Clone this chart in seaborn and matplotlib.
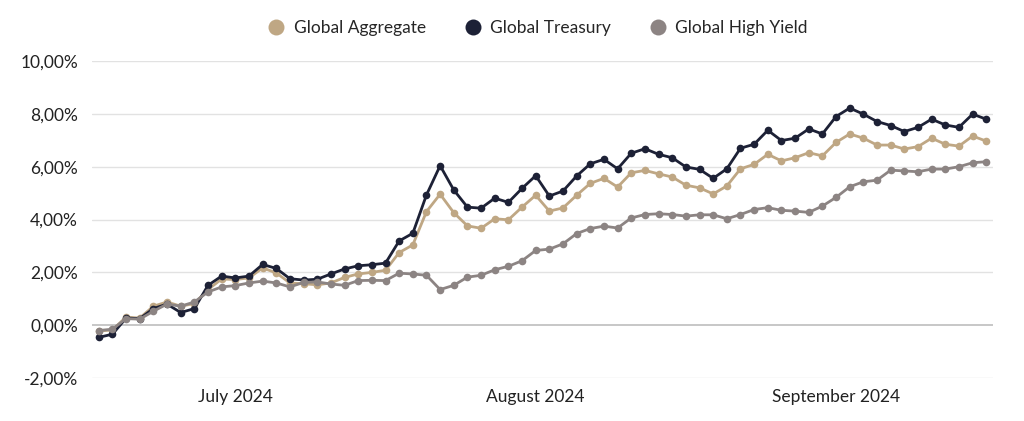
import seaborn as sns
import matplotlib.pyplot as plt
import pandas as pd
import numpy as np
from matplotlib.lines import Line2D
from matplotlib.ticker import FuncFormatter

# business days Jul 1 - Sep 30 2024 (66 points)
dates = pd.bdate_range("2024-07-01", "2024-09-30")

global_aggregate = [
    -0.22, -0.18, 0.31, 0.27, 0.72, 0.88, 0.72, 0.82, 1.35, 1.75,
    1.73, 1.79, 2.17, 1.98, 1.60, 1.57, 1.53, 1.60, 1.81, 1.94,
    2.00, 2.08, 2.75, 3.04, 4.30, 4.96, 4.26, 3.76, 3.67, 4.03,
    3.99, 4.47, 4.92, 4.32, 4.44, 4.92, 5.37, 5.56, 5.23, 5.77,
    5.86, 5.73, 5.61, 5.30, 5.20, 4.97, 5.27, 5.92, 6.09, 6.47,
    6.22, 6.34, 6.53, 6.41, 6.92, 7.24, 7.08, 6.82, 6.82, 6.67,
    6.76, 7.08, 6.85, 6.78, 7.16, 6.97,
]
global_treasury = [
    -0.46, -0.34, 0.27, 0.25, 0.63, 0.80, 0.48, 0.63, 1.51, 1.86,
    1.79, 1.86, 2.30, 2.15, 1.76, 1.71, 1.74, 1.94, 2.13, 2.25,
    2.29, 2.35, 3.19, 3.48, 4.93, 6.04, 5.12, 4.47, 4.43, 4.81,
    4.65, 5.18, 5.66, 4.89, 5.08, 5.65, 6.11, 6.28, 5.92, 6.51,
    6.68, 6.47, 6.34, 5.99, 5.90, 5.56, 5.92, 6.70, 6.85, 7.38,
    6.99, 7.08, 7.43, 7.24, 7.90, 8.22, 7.99, 7.71, 7.56, 7.33,
    7.49, 7.80, 7.58, 7.49, 7.99, 7.80,
]
global_high_yield = [
    -0.20, -0.15, 0.25, 0.23, 0.53, 0.80, 0.72, 0.88, 1.26, 1.45,
    1.50, 1.60, 1.67, 1.60, 1.45, 1.62, 1.64, 1.56, 1.51, 1.69,
    1.70, 1.69, 1.97, 1.94, 1.89, 1.35, 1.51, 1.82, 1.89, 2.10,
    2.23, 2.44, 2.83, 2.88, 3.08, 3.47, 3.66, 3.75, 3.68, 4.06,
    4.19, 4.22, 4.19, 4.13, 4.18, 4.18, 4.03, 4.19, 4.38, 4.45,
    4.35, 4.32, 4.27, 4.51, 4.84, 5.24, 5.43, 5.49, 5.87, 5.84,
    5.81, 5.91, 5.91, 6.00, 6.15, 6.19,
]

series_names = ["Global Aggregate", "Global Treasury", "Global High Yield"]
colors = ["#BFA784", "#1D2136", "#8C8483"]

month_labels = ["July 2024", "August 2024", "September 2024"]
month_tick_pos = [10, 32, 54]

y_ticks = [-2, 0, 2, 4, 6, 8, 10]

df = pd.DataFrame({
    "idx": np.tile(np.arange(len(dates)), 3),
    "series": np.repeat(series_names, len(dates)),
    "value": global_aggregate + global_treasury + global_high_yield,
})

sns.set_style("white")
plt.rcParams['font.family'] = ['Lato', 'DejaVu Sans']

fig = plt.figure(figsize=(10.24, 4.21), dpi=100)
ax = fig.add_axes([0.0898, 0.102, 0.880, 0.753])

# gridlines
for yt in y_ticks:
    ax.axhline(yt, color="#BDBDBD" if yt == 0 else "#E2E2E2",
               lw=1.2 if yt == 0 else 1.0, zorder=0)

sns.lineplot(data=df, x="idx", y="value", hue="series", hue_order=series_names,
             palette=colors, marker="o", markersize=5.5, markeredgewidth=0,
             linewidth=2.0, ax=ax, legend=False)

ax.set_xlim(-0.5, len(dates) - 0.5)
ax.set_ylim(-2, 10)
ax.set_yticks(y_ticks)
ax.yaxis.set_major_formatter(FuncFormatter(lambda v, p: f"{v:.2f}%".replace(".", ",")))
ax.set_xticks(month_tick_pos)
ax.set_xticklabels(month_labels)
ax.tick_params(axis="both", length=0, labelsize=12.5, labelcolor="#222222")
ax.tick_params(axis="y", pad=10)
ax.tick_params(axis="x", pad=8)
ax.set_xlabel("")
ax.set_ylabel("")
for s in ax.spines.values():
    s.set_visible(False)

handles = [Line2D([0], [0], marker="o", color="none", markerfacecolor=c,
                  markeredgewidth=0, markersize=11.5) for c in colors]
fig.legend(handles, series_names, loc="center", bbox_to_anchor=(0.525, 0.933),
           ncol=3, frameon=False, fontsize=12.5, handletextpad=0.5,
           columnspacing=2.2, handlelength=1.0)

fig.savefig("out.png", dpi=100)
